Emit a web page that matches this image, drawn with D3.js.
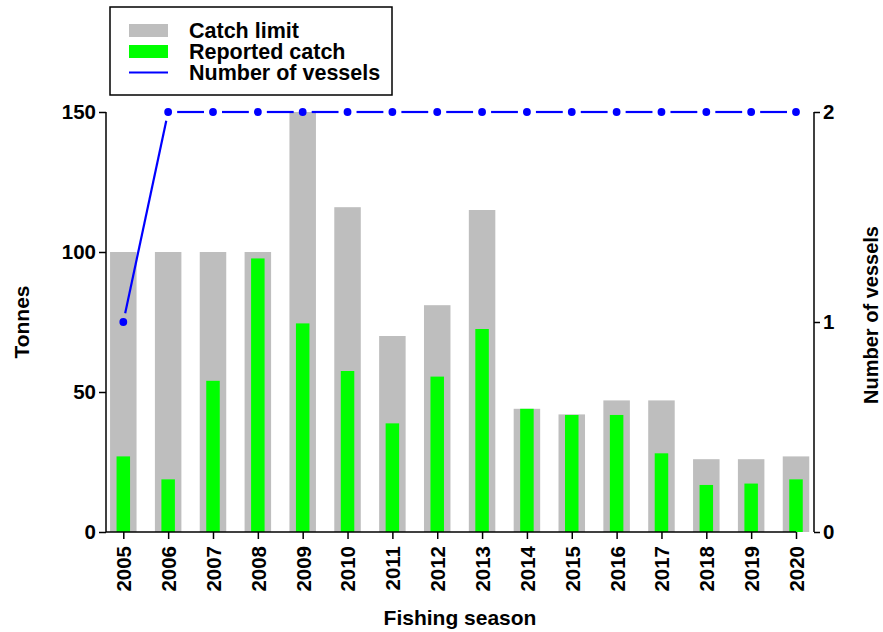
<!DOCTYPE html>
<html>
<head>
<meta charset="utf-8">
<script src="https://cdn.jsdelivr.net/npm/d3@7"></script>
<style>
  body { margin: 0; background: #fff; }
  text { font-family: "Liberation Sans", Arial, sans-serif; font-weight: bold; fill: #000; }
</style>
</head>
<body>
<div class="chart"></div>
<script>
var width = 883,
    height = 632;

// data
var seasons = ["2005", "2006", "2007", "2008", "2009", "2010", "2011", "2012",
               "2013", "2014", "2015", "2016", "2017", "2018", "2019", "2020"];
var catchLimit = [100, 100, 100, 100, 150, 116, 70, 81, 115, 44, 42, 47, 47, 26, 26, 27];
var reportedCatch = [27, 18.8, 54, 97.7, 74.5, 57.5, 38.8, 55.5, 72.5, 44, 41.8, 41.8, 28.1, 16.8, 17.3, 18.8];
var vessels = [1, 2, 2, 2, 2, 2, 2, 2, 2, 2, 2, 2, 2, 2, 2, 2];
var tonneTicks = [0, 50, 100, 150];
var vesselTicks = [0, 1, 2];
var legendItems = ["Catch limit", "Reported catch", "Number of vessels"];

var svg = d3.select(".chart").append("svg")
    .attr("width", width)
    .attr("height", height);

var x = d3.scalePoint()
    .domain(seasons)
    .range([123.3, 796]);

var y = d3.scaleLinear()
    .domain([0, 150])
    .range([532, 112]);

var y2 = d3.scaleLinear()
    .domain([0, 2])
    .range([532, 112]);

var limitW = 26.5,
    catchW = 13.5;

// bars
svg.selectAll(".limit")
    .data(catchLimit)
    .enter().append("rect")
    .attr("class", "limit")
    .attr("x", function(d, i) { return x(seasons[i]) - limitW / 2; })
    .attr("y", function(d) { return y(d); })
    .attr("width", limitW)
    .attr("height", function(d) { return y(0) - y(d); })
    .attr("fill", "#bebebe");

svg.selectAll(".reported")
    .data(reportedCatch)
    .enter().append("rect")
    .attr("class", "reported")
    .attr("x", function(d, i) { return x(seasons[i]) - catchW / 2; })
    .attr("y", function(d) { return y(d); })
    .attr("width", catchW)
    .attr("height", function(d) { return y(0) - y(d); })
    .attr("fill", "#00ff00");

// vessels line, type "b": segments stop short of the points
var pts = vessels.map(function(d, i) { return [x(seasons[i]), y2(d)]; });
var gap = 9;
var segs = d3.pairs(pts).map(function(p) {
    var dx = p[1][0] - p[0][0], dy = p[1][1] - p[0][1];
    var len = Math.sqrt(dx * dx + dy * dy);
    var ux = dx / len, uy = dy / len;
    return [[p[0][0] + ux * gap, p[0][1] + uy * gap], [p[1][0] - ux * gap, p[1][1] - uy * gap]];
});

svg.selectAll(".seg")
    .data(segs)
    .enter().append("line")
    .attr("class", "seg")
    .attr("x1", function(d) { return d[0][0]; })
    .attr("y1", function(d) { return d[0][1]; })
    .attr("x2", function(d) { return d[1][0]; })
    .attr("y2", function(d) { return d[1][1]; })
    .attr("stroke", "#0000ff")
    .attr("stroke-width", 2.2);

svg.selectAll(".pt")
    .data(pts)
    .enter().append("circle")
    .attr("class", "pt")
    .attr("cx", function(d) { return d[0]; })
    .attr("cy", function(d) { return d[1]; })
    .attr("r", 3.9)
    .attr("fill", "#0000ff");

// axes
var axisLeft = svg.append("g")
    .attr("transform", "translate(106,0)")
    .call(d3.axisLeft(y).tickValues(tonneTicks).tickSize(7).tickPadding(3));

var axisRight = svg.append("g")
    .attr("transform", "translate(814,0)")
    .call(d3.axisRight(y2).tickValues(vesselTicks).tickFormat(d3.format("d")).tickSize(6).tickPadding(3));

var axisBottom = svg.append("g")
    .attr("transform", "translate(0,532)")
    .call(d3.axisBottom(x).tickSize(7).tickPadding(3));

[axisLeft, axisRight, axisBottom].forEach(function(g) {
    g.selectAll("path").remove();
    g.selectAll("line").attr("stroke", "#000").attr("stroke-width", 1.5);
    g.selectAll("text").style("font-size", "20.5px").attr("font-family", null);
});

axisBottom.selectAll("text")
    .attr("transform", "rotate(-90)")
    .attr("x", -14)
    .attr("y", 0)
    .attr("dy", "0.36em")
    .style("text-anchor", "end");

// axis lines
svg.append("line")
    .attr("x1", 106).attr("x2", 106)
    .attr("y1", y(150)).attr("y2", y(0))
    .attr("stroke", "#000").attr("stroke-width", 1.5);
svg.append("line")
    .attr("x1", 814).attr("x2", 814)
    .attr("y1", y2(2)).attr("y2", y2(0))
    .attr("stroke", "#000").attr("stroke-width", 1.5);
svg.append("line")
    .attr("x1", 106).attr("x2", x("2020"))
    .attr("y1", 532).attr("y2", 532)
    .attr("stroke", "#000").attr("stroke-width", 1.5);

// axis titles
svg.append("text")
    .attr("x", 460)
    .attr("y", 625)
    .style("font-size", "21px")
    .style("text-anchor", "middle")
    .text("Fishing season");

svg.append("text")
    .attr("transform", "translate(29,322) rotate(-90)")
    .style("font-size", "21px")
    .style("text-anchor", "middle")
    .text("Tonnes");

svg.append("text")
    .attr("transform", "translate(878,315) rotate(-90)")
    .style("font-size", "20px")
    .style("text-anchor", "middle")
    .text("Number of vessels");

// legend
var legend = svg.append("g");
legend.append("rect")
    .attr("x", 110).attr("y", 7)
    .attr("width", 282).attr("height", 88)
    .attr("fill", "#fff")
    .attr("stroke", "#000")
    .attr("stroke-width", 1.5);

var legendColors = ["#bebebe", "#00ff00", "#0000ff"];
legendItems.forEach(function(name, i) {
    var cy = 30.5 + i * 21;
    if (i < 2) {
        legend.append("rect")
            .attr("x", 129).attr("y", cy - 6.5)
            .attr("width", 39).attr("height", 13)
            .attr("fill", legendColors[i]);
    } else {
        legend.append("line")
            .attr("x1", 129).attr("x2", 168)
            .attr("y1", cy).attr("y2", cy)
            .attr("stroke", legendColors[i])
            .attr("stroke-width", 2.2);
    }
    legend.append("text")
        .attr("x", 189)
        .attr("y", cy + 7)
        .style("font-size", "21.5px")
        .text(name);
});
</script>
</body>
</html>
